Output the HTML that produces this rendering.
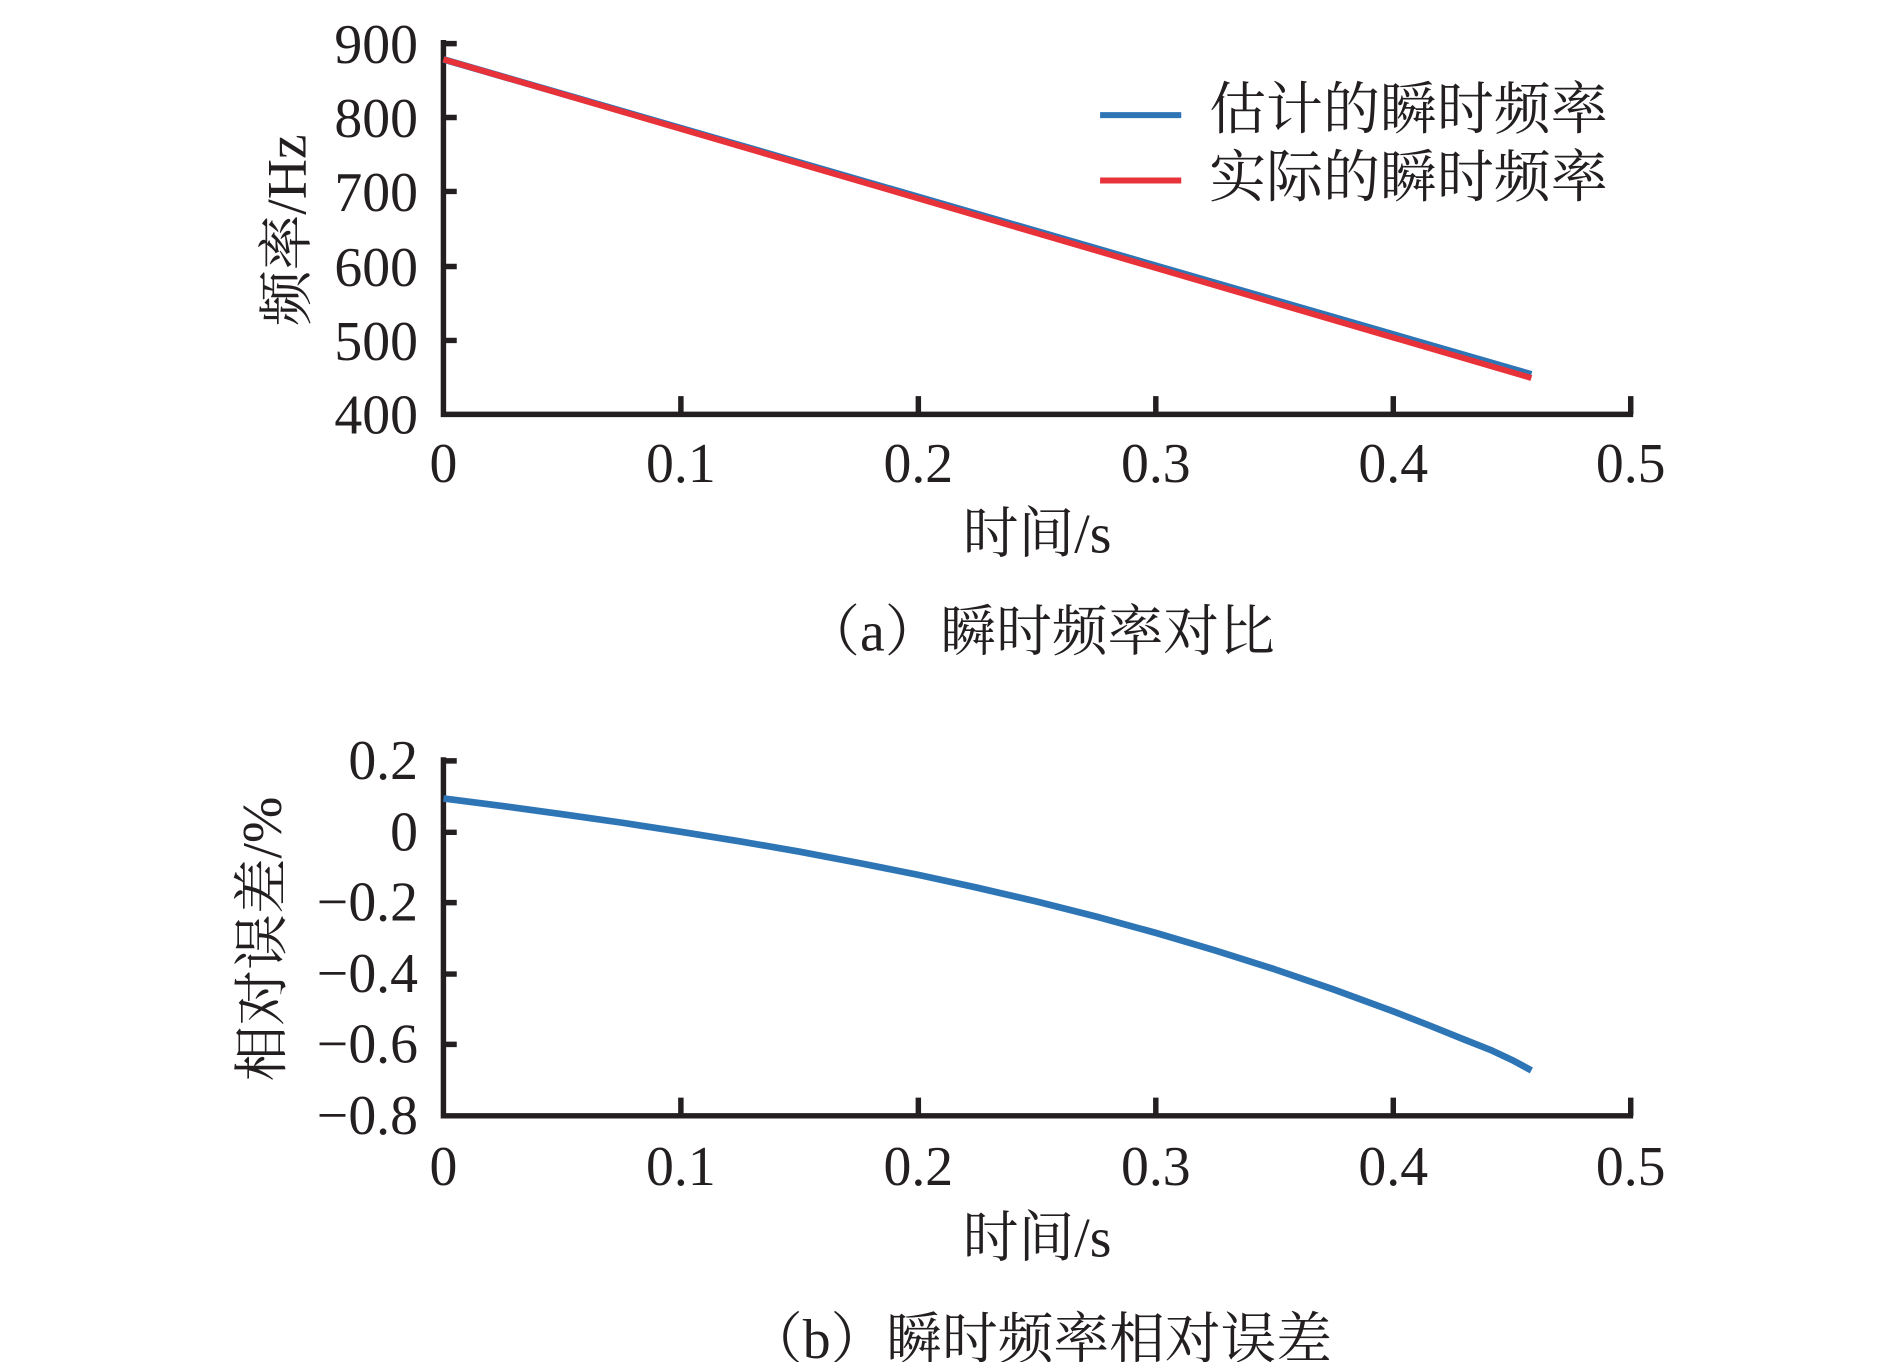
<!DOCTYPE html>
<html><head><meta charset="utf-8"><style>
html,body{margin:0;padding:0;background:#fff;}
svg{display:block;}
text{font-family:"Liberation Serif","Noto Serif CJK SC",serif;fill:#231f20;}
</style></head><body>
<svg width="1890" height="1362" viewBox="0 0 1560 1124.2" preserveAspectRatio="none" xmlns="http://www.w3.org/2000/svg">
<rect width="1560" height="1124.2" fill="#fff"/>
<!-- Top chart -->
<g stroke="#231f20" stroke-width="4.5" fill="none">
<path d="M366,33 V342 H1348"/>
<path d="M366,36 h11 M366,97 h11 M366,158 h11 M366,220 h11 M366,281 h11"/>
<path d="M562,342 v-15 M758,342 v-15 M954,342 v-15 M1150,342 v-15 M1346,342 v-15"/>
</g>
<line x1="366" y1="49" x2="1264" y2="309" stroke="#2e75b6" stroke-width="5.5"/>
<line x1="366" y1="49" x2="1264" y2="312" stroke="#e8323a" stroke-width="5"/>
<g font-size="46" text-anchor="end">
<text x="345" y="52">900</text><text x="345" y="113">800</text><text x="345" y="174">700</text>
<text x="345" y="236">600</text><text x="345" y="297">500</text><text x="345" y="358">400</text>
</g>
<g font-size="46" text-anchor="middle">
<text x="366" y="398">0</text><text x="562" y="398">0.1</text><text x="758" y="398">0.2</text>
<text x="954" y="398">0.3</text><text x="1150" y="398">0.4</text><text x="1346" y="398">0.5</text>
<text x="856" y="456">时间/s</text>
<text x="858" y="537">（a）瞬时频率对比</text>
<text transform="translate(252,190) rotate(-90)">频率/Hz</text>
</g>
<line x1="908" y1="95" x2="975" y2="95" stroke="#2e75b6" stroke-width="5"/>
<line x1="908" y1="149" x2="975" y2="149" stroke="#e8323a" stroke-width="5"/>
<g font-size="47"><text x="998" y="106">估计的瞬时频率</text><text x="998" y="162">实际的瞬时频率</text></g>
<!-- Bottom chart -->
<g stroke="#231f20" stroke-width="4.5" fill="none">
<path d="M366,625 V921 H1348"/>
<path d="M366,628 h11 M366,687 h11 M366,745 h11 M366,804 h11 M366,862 h11"/>
<path d="M562,921 v-15 M758,921 v-15 M954,921 v-15 M1150,921 v-15 M1346,921 v-15"/>
</g>
<polyline fill="none" stroke="#2e75b6" stroke-width="5.5" stroke-linejoin="round" points="366,659 415,665.3 464,672 513,679 562,686.6 611,694.5 660,703 709,712.3 758,722.1 807,732.8 856,744.2 905,756.6 954,770 1003,784.5 1052,800 1101,816.8 1150,834.8 1180,846.5 1209,858.2 1230,866.5 1248,874.9 1264,883.5"/>
<g font-size="46" text-anchor="end">
<text x="345" y="643">0.2</text><text x="345" y="702">0</text><text x="345" y="760">−0.2</text>
<text x="345" y="819">−0.4</text><text x="345" y="877">−0.6</text><text x="345" y="936">−0.8</text>
</g>
<g font-size="46" text-anchor="middle">
<text x="366" y="978">0</text><text x="562" y="978">0.1</text><text x="758" y="978">0.2</text>
<text x="954" y="978">0.3</text><text x="1150" y="978">0.4</text><text x="1346" y="978">0.5</text>
<text x="856" y="1037">时间/s</text>
<text x="858" y="1121">（b）瞬时频率相对误差</text>
<text transform="translate(232,775) rotate(-90)">相对误差/%</text>
</g>
</svg>
</body></html>
